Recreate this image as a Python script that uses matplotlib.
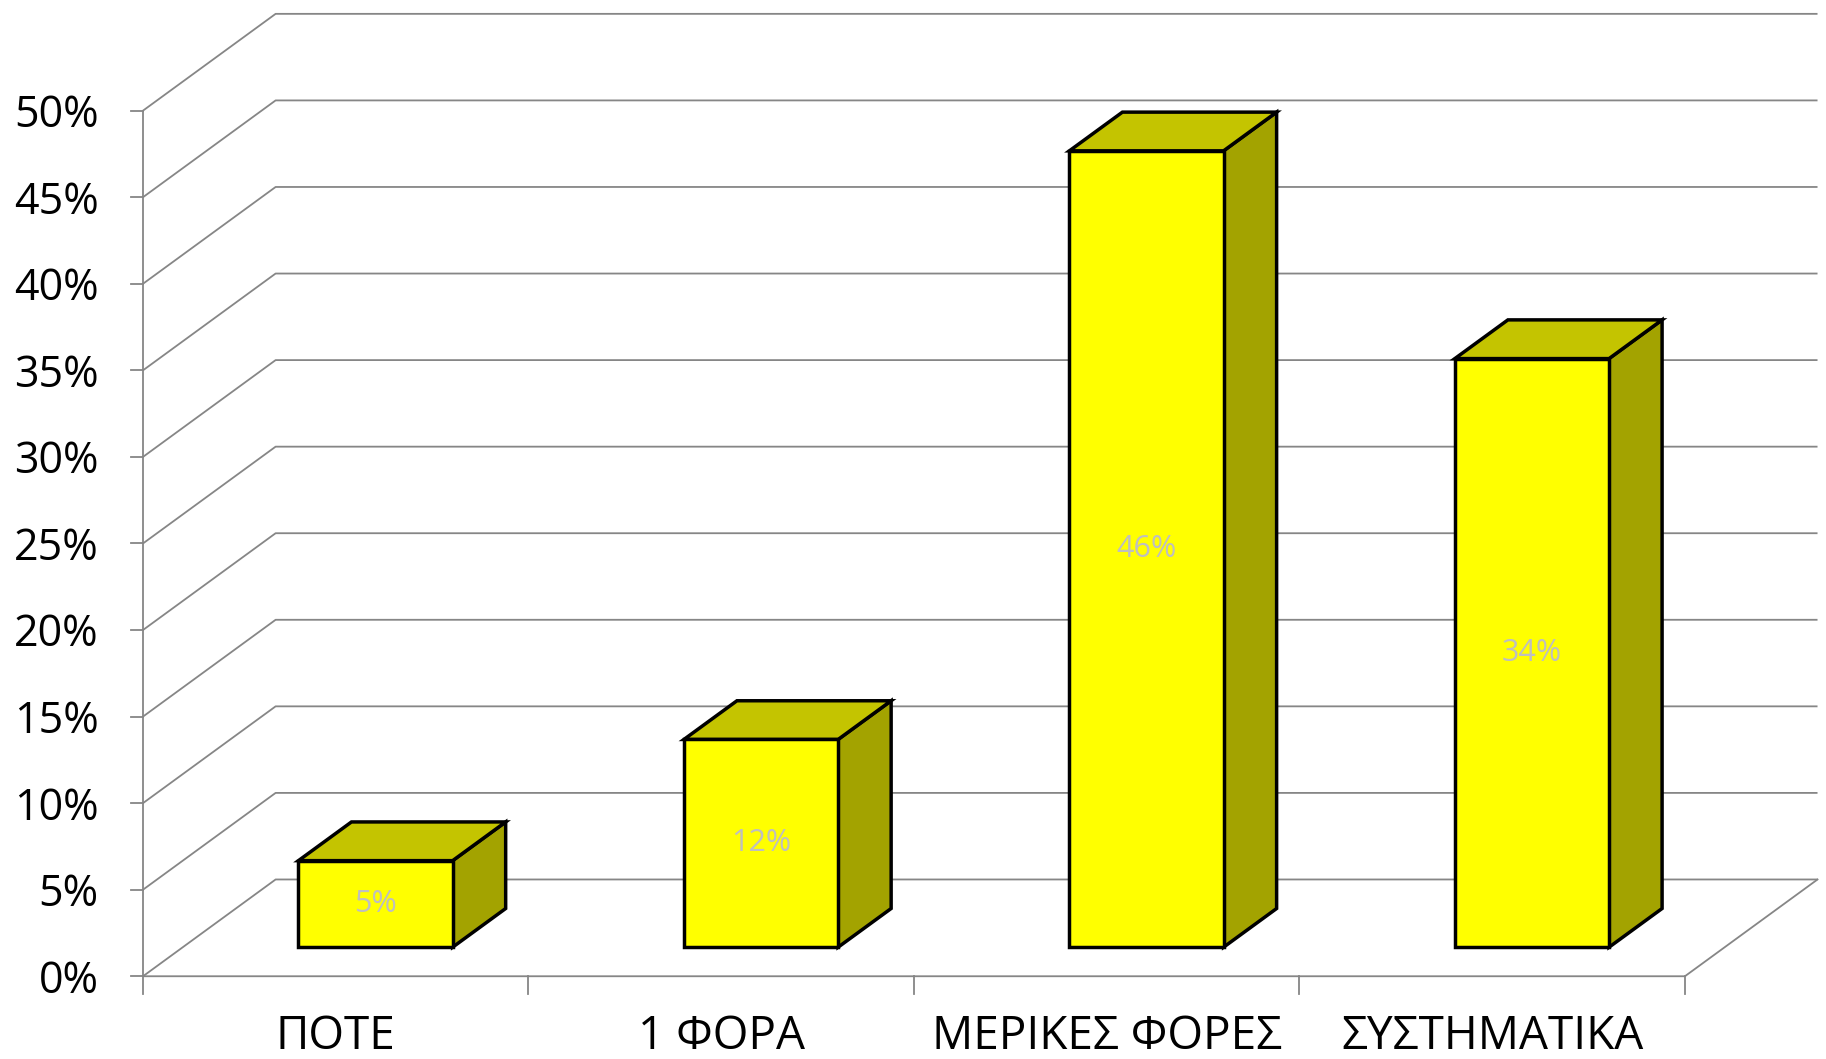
import matplotlib
matplotlib.use('Agg')
from matplotlib import pyplot as plt
from matplotlib.patches import Polygon

plt.rcParams['font.family'] = ['Open Sans', 'DejaVu Sans']

# 데이터
categories = ['ΠΟΤΕ', '1 ΦΟΡΑ', 'ΜΕΡΙΚΕΣ ΦΟΡΕΣ', 'ΣΥΣΤΗΜΑΤΙΚΑ']
values = [5, 12, 46, 34]
value_labels = ['5%', '12%', '46%', '34%']
y_ticks = [0, 5, 10, 15, 20, 25, 30, 35, 40, 45, 50]
y_tick_labels = [f'{t}%' for t in y_ticks]

# 3D 원근 (가로: 카테고리 단위, 세로: % 단위)
depth_dx = 0.344
depth_dy = 5.59
bar_width = 0.4
bar_z0, bar_z1 = 0.3, 0.7

front_color = '#FFFF00'
top_color = '#C4C400'
side_color = '#A3A300'
grid_color = '#868686'


def proj(x, v, z):
    return (x + z * depth_dx, v + z * depth_dy)


fig = plt.figure(figsize=(18.26, 10.59), dpi=100)
ax = fig.add_axes([0, 0, 1, 1])
ax.set_xlim(-0.371, 4.366)
ax.set_ylim(-4.78, 56.39)
ax.axis('off')

n = len(categories)

# 뒷벽 격자선
for t in y_ticks:
    xs = [0, depth_dx, n + depth_dx]
    ys = [t, t + depth_dy, t + depth_dy]
    ax.plot(xs, ys, color=grid_color, lw=1.3, zorder=1, solid_capstyle='butt')

# 바닥
ax.plot([0, n, n + depth_dx], [0, 0, depth_dy], color=grid_color, lw=1.3, zorder=1)
# 세로축
ax.plot([0, 0], [0, y_ticks[-1]], color=grid_color, lw=1.3, zorder=1)
for t, lab in zip(y_ticks, y_tick_labels):
    ax.plot([-0.03, 0], [t, t], color=grid_color, lw=1.3, zorder=1)
    ax.text(-0.115, t - 0.3, lab, ha='right', va='center', fontsize=31, color='black')

# x축 눈금
for i in range(n + 1):
    ax.plot([i, i], [0, -1.0], color=grid_color, lw=1.3, zorder=1)

# 막대
for i, (v, lab) in enumerate(zip(values, value_labels)):
    x0 = i + 0.5 - bar_width / 2
    x1 = i + 0.5 + bar_width / 2
    front = [proj(x0, 0, bar_z0), proj(x1, 0, bar_z0), proj(x1, v, bar_z0), proj(x0, v, bar_z0)]
    top = [proj(x0, v, bar_z0), proj(x1, v, bar_z0), proj(x1, v, bar_z1), proj(x0, v, bar_z1)]
    side = [proj(x1, 0, bar_z0), proj(x1, 0, bar_z1), proj(x1, v, bar_z1), proj(x1, v, bar_z0)]
    for pts, c in [(side, side_color), (top, top_color), (front, front_color)]:
        ax.add_patch(Polygon(pts, closed=True, facecolor=c, edgecolor='black',
                             lw=2.5, joinstyle='miter', zorder=3))
    cx, cy = proj(i + 0.5, v / 2, bar_z0)
    ax.text(cx, cy, lab, ha='center', va='center', fontsize=22, color='#BFBFBF', zorder=4)

# 카테고리 라벨
for i, cat in enumerate(categories):
    ax.text(i + 0.5, -3.5, cat, ha='center', va='center', fontsize=33, color='black')

plt.savefig('out.png', dpi=100)
plt.close()
